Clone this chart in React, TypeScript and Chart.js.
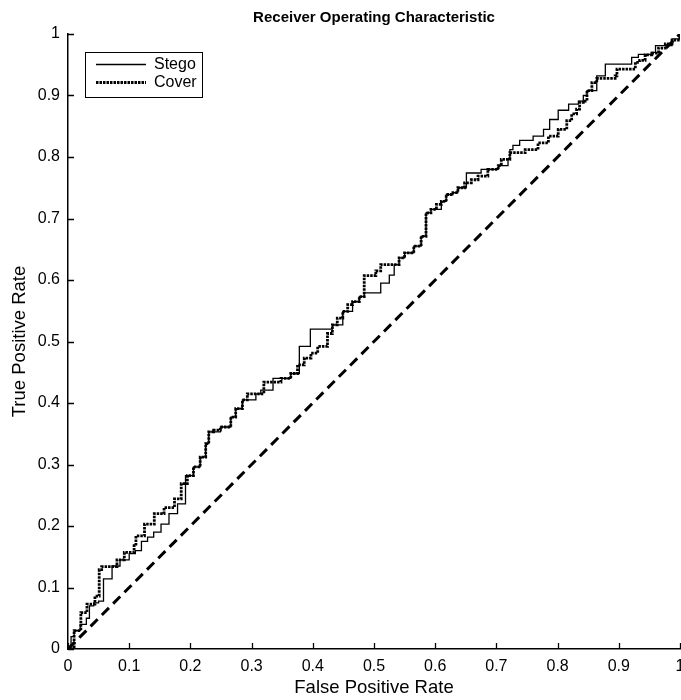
import React, { useEffect, useRef } from "react";
import { Chart, registerables } from "chart.js";

Chart.register(...registerables);

const titleText = "Receiver Operating Characteristic";
const xTitle = "False Positive Rate";
const yTitle = "True Positive Rate";
const seriesNames = ["Stego", "Cover"];

const tickValues = [0, 0.1, 0.2, 0.3, 0.4, 0.5, 0.6, 0.7, 0.8, 0.9, 1];
const tickLabels = ["0", "0.1", "0.2", "0.3", "0.4", "0.5", "0.6", "0.7", "0.8", "0.9", "1"];

const stegoFpr = [
  0, 0.005, 0.01, 0.02, 0.03, 0.035, 0.042, 0.05, 0.058, 0.058, 0.072, 0.072, 0.085, 0.1, 0.11, 0.12,
  0.13, 0.14, 0.152, 0.165, 0.179, 0.192, 0.192, 0.205, 0.216, 0.225, 0.23, 0.249, 0.266, 0.274, 0.285,
  0.307, 0.315, 0.335, 0.335, 0.35, 0.364, 0.378, 0.378, 0.396, 0.396, 0.427, 0.432, 0.449, 0.465,
  0.476, 0.484, 0.511, 0.511, 0.525, 0.525, 0.533, 0.541, 0.55, 0.565, 0.577, 0.585, 0.585, 0.593,
  0.61, 0.618, 0.629, 0.637, 0.651, 0.651, 0.675, 0.675, 0.703, 0.719, 0.722, 0.727, 0.738, 0.76,
  0.777, 0.787, 0.801, 0.818, 0.834, 0.842, 0.848, 0.864, 0.878, 0.916, 0.921, 0.932, 0.954, 0.96,
  0.976, 0.987, 1,
];
const stegoTpr = [
  0, 0.02, 0.03, 0.04, 0.05, 0.07, 0.075, 0.078, 0.078, 0.114, 0.114, 0.135, 0.145, 0.155, 0.16, 0.175,
  0.182, 0.19, 0.203, 0.22, 0.236, 0.236, 0.282, 0.296, 0.312, 0.334, 0.353, 0.361, 0.377, 0.391, 0.405,
  0.415, 0.421, 0.421, 0.44, 0.44, 0.448, 0.47, 0.492, 0.505, 0.52, 0.52, 0.527, 0.549, 0.565,
  0.573, 0.579, 0.579, 0.595, 0.595, 0.608, 0.625, 0.636, 0.644, 0.655, 0.671, 0.687, 0.709, 0.715,
  0.728, 0.739, 0.742, 0.75, 0.758, 0.774, 0.774, 0.78, 0.786, 0.796, 0.812, 0.819, 0.827, 0.834,
  0.845, 0.861, 0.876, 0.886, 0.891, 0.9, 0.908, 0.932, 0.951, 0.951, 0.962, 0.967, 0.97, 0.981,
  0.981, 0.992, 1,
];

const coverFpr = [
  0, 0.01, 0.021, 0.021, 0.031, 0.044, 0.051, 0.051, 0.055, 0.072, 0.08, 0.092, 0.108, 0.111, 0.125,
  0.141, 0.157, 0.174, 0.185, 0.195, 0.205, 0.216, 0.225, 0.23, 0.238, 0.249, 0.266, 0.274, 0.285,
  0.293, 0.307, 0.32, 0.348, 0.364, 0.375, 0.386, 0.397, 0.408, 0.424, 0.424, 0.432, 0.44, 0.449,
  0.457, 0.465, 0.476, 0.484, 0.484, 0.503, 0.511, 0.533, 0.541, 0.55, 0.565, 0.577, 0.585, 0.585,
  0.593, 0.602, 0.61, 0.618, 0.629, 0.637, 0.648, 0.659, 0.67, 0.686, 0.703, 0.708, 0.722, 0.747,
  0.768, 0.785, 0.801, 0.815, 0.823, 0.831, 0.836, 0.842, 0.848, 0.856, 0.864, 0.894, 0.897, 0.924,
  0.927, 0.934, 0.943, 0.954, 0.965, 0.976, 0.987, 1,
];
const coverTpr = [
  0, 0.03, 0.03, 0.059, 0.073, 0.086, 0.09, 0.129, 0.134, 0.134, 0.145, 0.157, 0.168, 0.184, 0.203,
  0.22, 0.23, 0.244, 0.269, 0.282, 0.296, 0.312, 0.334, 0.353, 0.356, 0.361, 0.377, 0.391, 0.405,
  0.415, 0.415, 0.434, 0.44, 0.448, 0.462, 0.473, 0.481, 0.492, 0.494, 0.513, 0.527, 0.538, 0.549,
  0.56, 0.565, 0.573, 0.578, 0.607, 0.615, 0.625, 0.625, 0.636, 0.644, 0.655, 0.671, 0.687, 0.709,
  0.715, 0.723, 0.728, 0.739, 0.742, 0.75, 0.758, 0.763, 0.769, 0.78, 0.786, 0.796, 0.807, 0.812,
  0.823, 0.834, 0.845, 0.859, 0.87, 0.878, 0.889, 0.891, 0.908, 0.921, 0.928, 0.932, 0.943, 0.943,
  0.954, 0.957, 0.966, 0.969, 0.977, 0.984, 0.99, 1,
];

const chanceFpr = [0, 1];
const chanceTpr = [0, 1];

const FONT = '"Liberation Sans", Arial, Helvetica, sans-serif';

const toPoints = (xs: number[], ys: number[]) => xs.map((x, i) => ({ x, y: ys[i] }));

const decorPlugin = {
  id: "decor",
  afterDraw(chart: any) {
    const { ctx, chartArea, scales } = chart;
    const xs = scales.x;
    const ys = scales.y;
    ctx.save();
    ctx.strokeStyle = "#000";
    ctx.lineWidth = 1.3;
    ctx.beginPath();
    tickValues.forEach((v) => {
      const px = Math.round(xs.getPixelForValue(v)) + 0.5;
      ctx.moveTo(px, chartArea.bottom);
      ctx.lineTo(px, chartArea.bottom - 6);
    });
    tickValues.forEach((v) => {
      const py = Math.round(ys.getPixelForValue(v)) + 0.5;
      ctx.moveTo(chartArea.left, py);
      ctx.lineTo(chartArea.left + 6, py);
    });
    ctx.stroke();

    ctx.fillStyle = "#000";
    ctx.font = `bold 15px ${FONT}`;
    ctx.textAlign = "center";
    ctx.textBaseline = "middle";
    ctx.fillText(titleText, (chartArea.left + chartArea.right) / 2, 18);

    const lx = chartArea.left + 17;
    const ly = chartArea.top + 18;
    const lw = 117;
    const lh = 45;
    ctx.fillStyle = "#fff";
    ctx.fillRect(lx, ly, lw, lh);
    ctx.strokeStyle = "#000";
    ctx.lineWidth = 1;
    ctx.strokeRect(lx + 0.5, ly + 0.5, lw, lh);

    const row1 = ly + 12.5;
    const row2 = ly + 30.5;
    ctx.lineWidth = 1.3;
    ctx.setLineDash([]);
    ctx.beginPath();
    ctx.moveTo(lx + 11, row1);
    ctx.lineTo(lx + 61, row1);
    ctx.stroke();
    ctx.lineWidth = 2.8;
    ctx.setLineDash([2.5, 1]);
    ctx.beginPath();
    ctx.moveTo(lx + 11, row2);
    ctx.lineTo(lx + 61, row2);
    ctx.stroke();
    ctx.setLineDash([]);

    ctx.fillStyle = "#000";
    ctx.font = `16px ${FONT}`;
    ctx.textAlign = "left";
    ctx.textBaseline = "middle";
    ctx.fillText(seriesNames[0], lx + 69, row1);
    ctx.fillText(seriesNames[1], lx + 69, row2);
    ctx.restore();
  },
};

export default function App() {
  const canvasRef = useRef<HTMLCanvasElement | null>(null);

  useEffect(() => {
    const canvas = canvasRef.current;
    if (!canvas) return;
    const labelFor = (v: number) => {
      const i = tickValues.findIndex((t) => Math.abs(t - v) < 1e-6);
      return i >= 0 ? tickLabels[i] : "";
    };
    const chart = new Chart(canvas, {
      type: "line",
      data: {
        datasets: [
          {
            label: seriesNames[0],
            data: toPoints(stegoFpr, stegoTpr),
            borderColor: "#000",
            borderWidth: 1.3,
            stepped: "before",
            pointRadius: 0,
            fill: false,
            order: 0,
          },
          {
            label: seriesNames[1],
            data: toPoints(coverFpr, coverTpr),
            borderColor: "#000",
            borderWidth: 2.8,
            borderDash: [2.5, 1],
            stepped: "before",
            pointRadius: 0,
            fill: false,
            order: 1,
          },
          {
            label: "chance",
            data: toPoints(chanceFpr, chanceTpr),
            borderColor: "#000",
            borderWidth: 3,
            borderDash: [10, 6],
            pointRadius: 0,
            fill: false,
            order: 2,
          },
        ],
      },
      options: {
        responsive: false,
        animation: false,
        devicePixelRatio: 1,
        layout: { padding: { top: 34, right: 1, bottom: 0, left: 0 } },
        plugins: {
          legend: { display: false },
          title: { display: false },
          tooltip: { enabled: false },
        },
        scales: {
          x: {
            type: "linear",
            min: 0,
            max: 1,
            afterBuildTicks: (s: any) => {
              s.ticks = tickValues.map((v) => ({ value: v }));
            },
            afterFit: (s: any) => {
              s.height = 51;
              s.paddingLeft = 0;
              s.paddingRight = 0;
            },
            grid: { drawOnChartArea: false, drawTicks: false },
            border: { display: true, color: "#000", width: 1.5 },
            ticks: {
              autoSkip: false,
              maxRotation: 0,
              padding: 8,
              color: "#000",
              font: { family: FONT, size: 16 },
              callback: (v: any) => labelFor(Number(v)),
            },
            title: {
              display: true,
              text: xTitle,
              color: "#000",
              font: { family: FONT, size: 18.5 },
              padding: { top: 0, bottom: 1 },
            },
          },
          y: {
            type: "linear",
            min: 0,
            max: 1,
            afterBuildTicks: (s: any) => {
              s.ticks = tickValues.map((v) => ({ value: v }));
            },
            afterFit: (s: any) => {
              s.width = 68;
              s.paddingTop = 0;
              s.paddingBottom = 0;
            },
            grid: { drawOnChartArea: false, drawTicks: false },
            border: { display: true, color: "#000", width: 1.5 },
            ticks: {
              autoSkip: false,
              padding: 8,
              color: "#000",
              font: { family: FONT, size: 16 },
              callback: (v: any) => labelFor(Number(v)),
            },
            title: {
              display: true,
              text: yTitle,
              color: "#000",
              font: { family: FONT, size: 18.5 },
              padding: { top: 9, bottom: 0 },
            },
          },
        },
      },
      plugins: [decorPlugin],
    });
    return () => chart.destroy();
  }, []);

  return (
    <div style={{ position: "absolute", left: 0, top: 0, width: 681, height: 700, background: "#fff" }}>
      <canvas ref={canvasRef} width={681} height={700} style={{ display: "block", width: 681, height: 700 }} />
    </div>
  );
}
